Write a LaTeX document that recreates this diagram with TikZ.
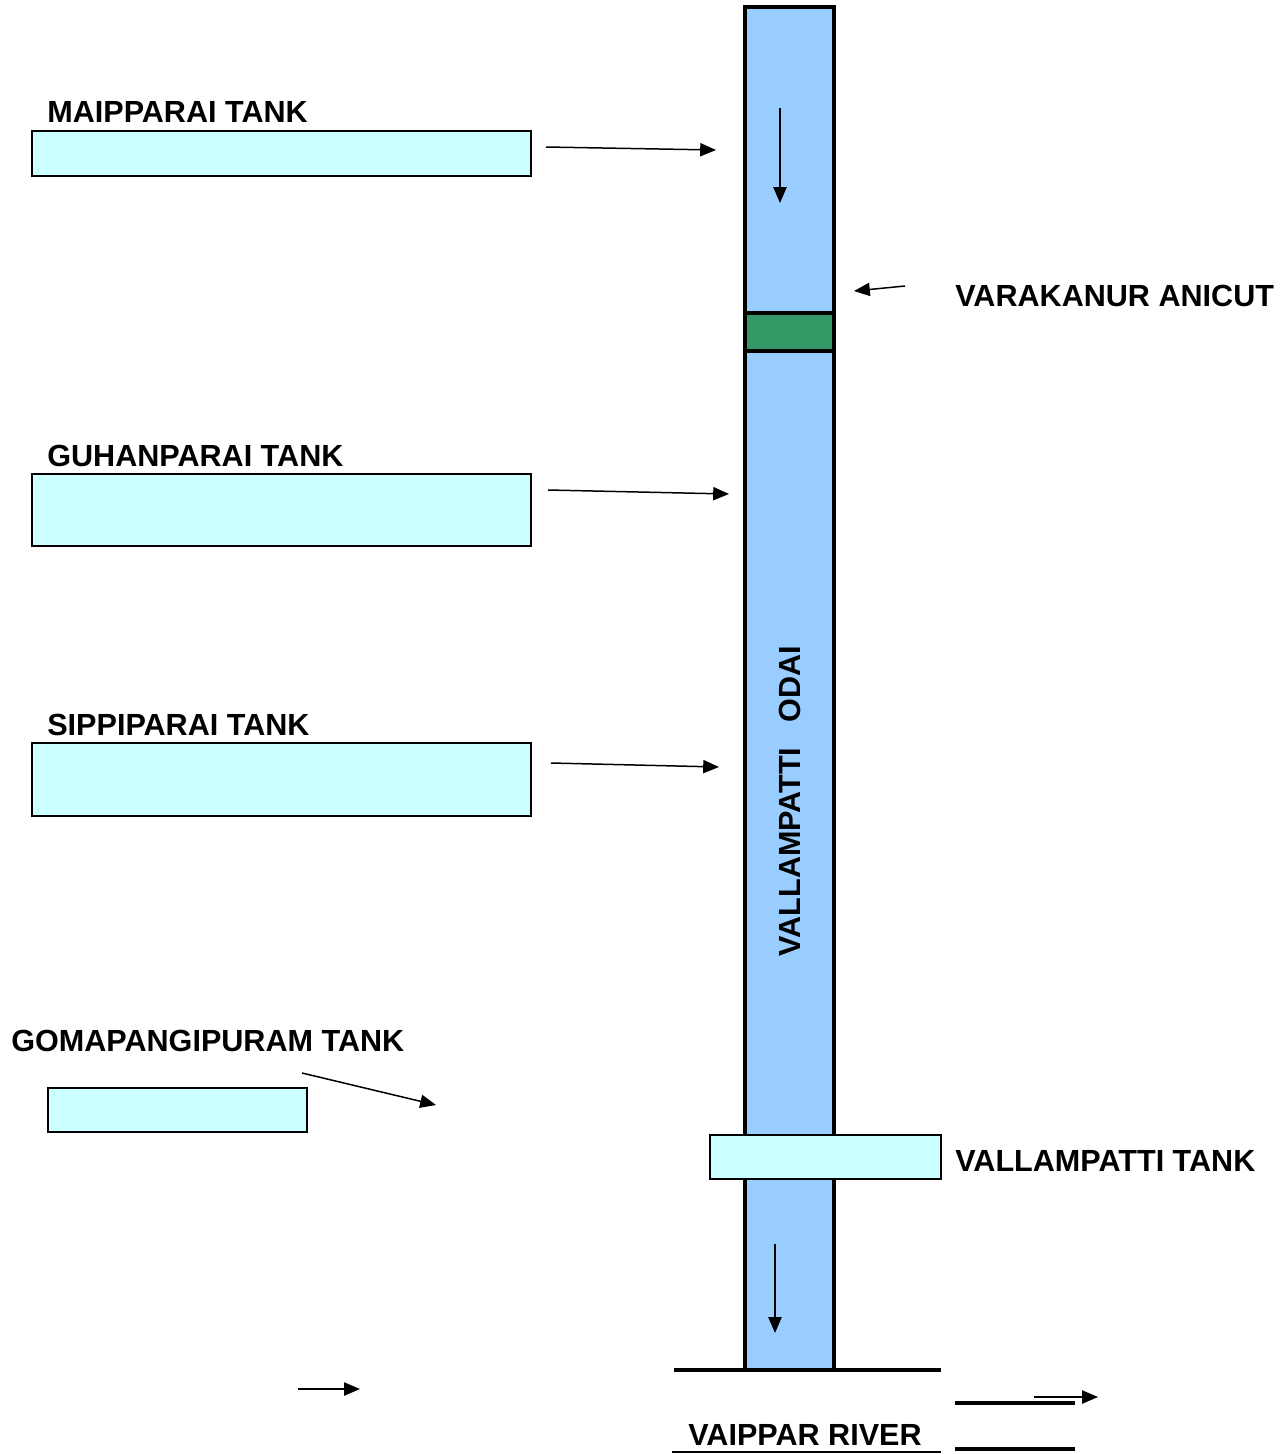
\documentclass[tikz,border=0pt]{standalone}
\usepackage{fontspec}
\setmainfont{Liberation Sans}
\usetikzlibrary{positioning}
\usetikzlibrary{arrows.meta}

\definecolor{odaiblue}{HTML}{99CCFF}
\definecolor{tankcyan}{HTML}{CCFFFF}
\definecolor{anicutgreen}{HTML}{339966}

\begin{document}
\begin{tikzpicture}[x=0.02cm, y=-0.02cm,
  tank/.style={draw, line width=1.5pt, fill=tankcyan, anchor=north west,
    inner sep=0pt, outer sep=0pt},
  lbl/.style={anchor=base west, inner sep=0pt,
    font=\fontsize{17.4}{20}\selectfont\bfseries},
  flow/.style={-{Triangle[length=9pt,width=7.5pt]}, line width=0.85pt},
  ground/.style={line width=1.8pt}]
\def\u{0.02cm}

\useasboundingbox (0,0) rectangle (1286,1454);

\node[tank, fill=odaiblue, line width=1.8pt, minimum width=89*\u, minimum height=1363*\u] (odai) at (745,7) {};
\node[tank, fill=anicutgreen, line width=1.8pt, minimum width=89*\u, minimum height=38*\u] (anicut) at (745,313) {};
\node[tank, minimum width=231*\u, minimum height=44*\u] (vtank) at (710,1135) {};

\node[tank, minimum width=499*\u, minimum height=45*\u] (maip) at (32,131) {};
\node[tank, minimum width=499*\u, minimum height=72*\u] (guhan) at (32,474) {};
\node[tank, minimum width=499*\u, minimum height=73*\u] (sippi) at (32,743) {};
\node[tank, minimum width=259*\u, minimum height=44*\u] (goma) at (48,1088) {};

\node[lbl] (maiplbl) at (47,122) {MAIPPARAI TANK};
\node[lbl] (guhanlbl) at (47,466) {GUHANPARAI TANK};
\node[lbl] (sippilbl) at (47,735) {SIPPIPARAI TANK};
\node[lbl] (gomalbl) at (11,1051) {GOMAPANGIPURAM TANK};
\node[lbl] (anicutlbl) at (955,306) {VARAKANUR ANICUT};
\node[lbl] (vtanklbl) at (955,1171) {VALLAMPATTI TANK};
\node[lbl] (riverlbl) at (688,1445) {VAIPPAR RIVER};
\node[lbl, anchor=center, rotate=90] (odailbl) at (790,801) {VALLAMPATTI\ \ \ ODAI};

\coordinate (maipout) at (546,147);
\coordinate (maipin) at (716,150);
\coordinate (guhanout) at (548,490);
\coordinate (guhanin) at (729,494);
\coordinate (sippiout) at (551,763);
\coordinate (sippiin) at (719,767);
\coordinate (gomaout) at (302,1073);
\coordinate (gomain) at (436,1105);
\coordinate (anicutout) at (905,286);
\coordinate (anicutin) at (854,291);
\coordinate (topa) at (780,108);
\coordinate (topb) at (780,203);
\coordinate (lowa) at (775,1244);
\coordinate (lowb) at (775,1333);
\coordinate (lefta) at (298,1389);
\coordinate (leftb) at (360,1389);
\coordinate (righta) at (1034,1397);
\coordinate (rightb) at (1098,1397);

\draw[flow] (maipout) -- (maipin);
\draw[flow] (guhanout) -- (guhanin);
\draw[flow] (sippiout) -- (sippiin);
\draw[flow] (gomaout) -- (gomain);
\draw[flow] (anicutout) -- (anicutin);
\draw[flow] (topa) -- (topb);
\draw[flow] (lowa) -- (lowb);
\draw[flow] (lefta) -- (leftb);
\draw[flow] (righta) -- (rightb);

\coordinate (banka) at (674,1370);
\coordinate (bankb) at (941,1370);
\coordinate (bankc) at (955,1403);
\coordinate (bankd) at (1075,1403);
\coordinate (banke) at (955,1449);
\coordinate (bankf) at (1075,1449);
\coordinate (bankg) at (672,1452);
\coordinate (bankh) at (941,1452);

\draw[ground] (banka) -- (bankb);
\draw[ground] (bankc) -- (bankd);
\draw[ground] (banke) -- (bankf);
\draw[line width=1.1pt] (bankg) -- (bankh);
\end{tikzpicture}
\end{document}
